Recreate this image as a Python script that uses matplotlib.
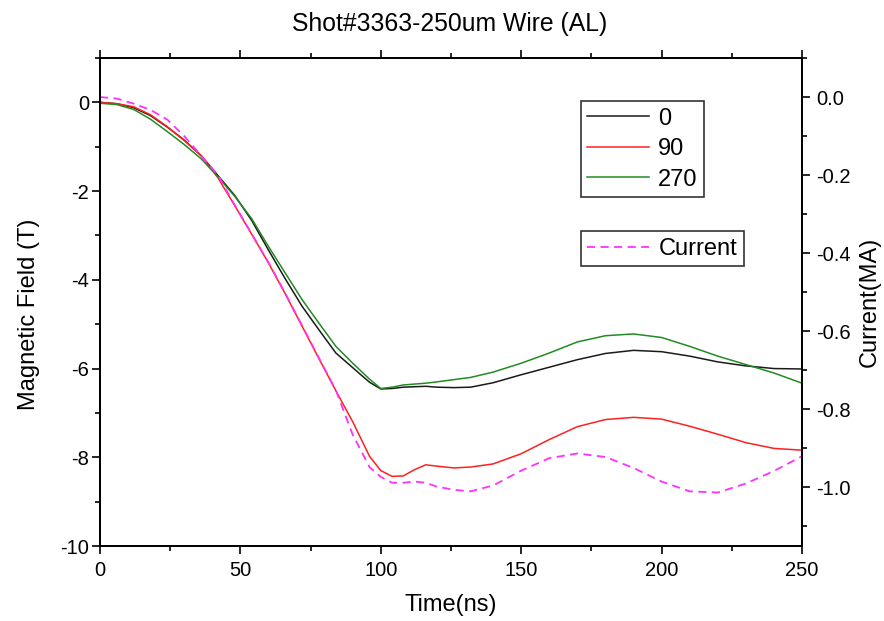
import matplotlib
matplotlib.use("Agg")
import matplotlib.pyplot as plt
from matplotlib.ticker import MultipleLocator, FormatStrFormatter

plt.rcParams['font.family'] = ['Liberation Sans', 'DejaVu Sans']
plt.rcParams['axes.unicode_minus'] = False

# ---- data ----
time_ns = [0, 6, 12, 18, 24, 30, 36, 42, 48, 54, 60, 66, 72, 78, 84, 90, 96,
           100, 104, 108, 112, 116, 120, 126, 132, 140, 150, 160, 170, 180,
           190, 200, 210, 220, 230, 240, 250]

field_0 = [0.0, -0.03, -0.12, -0.30, -0.56, -0.85, -1.20, -1.65, -2.10, -2.66,
           -3.33, -3.98, -4.60, -5.13, -5.65, -5.98, -6.31,
           -6.46, -6.45, -6.42, -6.41, -6.40, -6.42, -6.43, -6.42, -6.32, -6.14,
           -5.97, -5.80, -5.66, -5.59, -5.62, -5.72, -5.85, -5.94, -6.00, -6.01]

field_90 = [0.0, -0.03, -0.10, -0.28, -0.55, -0.86, -1.20, -1.70, -2.33, -2.97,
            -3.62, -4.32, -5.05, -5.78, -6.50, -7.20, -7.98,
            -8.30, -8.43, -8.42, -8.28, -8.17, -8.20, -8.24, -8.22, -8.15, -7.92,
            -7.60, -7.31, -7.15, -7.10, -7.14, -7.30, -7.48, -7.67, -7.80, -7.84]

field_270 = [-0.02, -0.05, -0.16, -0.38, -0.66, -0.95, -1.27, -1.68, -2.12, -2.62,
             -3.25, -3.85, -4.45, -4.98, -5.50, -5.88, -6.24,
             -6.45, -6.42, -6.37, -6.35, -6.33, -6.30, -6.25, -6.20, -6.08, -5.88,
             -5.65, -5.40, -5.26, -5.22, -5.30, -5.50, -5.72, -5.91, -6.10, -6.33]

current_MA = [0.0, -0.004, -0.017, -0.033, -0.058, -0.10, -0.15, -0.20, -0.277, -0.35,
              -0.424, -0.503, -0.586, -0.669, -0.751, -0.865, -0.948,
              -0.973, -0.988, -0.988, -0.985, -0.988, -0.998, -1.006, -1.010, -0.995, -0.957,
              -0.925, -0.913, -0.922, -0.950, -0.985, -1.010, -1.013, -0.990, -0.958, -0.920]

field_labels = ['0', '90', '270']
field_colors = ['#1a1a1a', '#ff2020', '#228b22']

# ---- figure ----
fig = plt.figure(figsize=(8.84, 6.21), dpi=100)
ax = fig.add_axes([100/884, 1-546/621, 702/884, 488/621])
ax2 = ax.twinx()

for vals, lab, col in zip([field_0, field_90, field_270], field_labels, field_colors):
    ax.plot(time_ns, vals, color=col, lw=1.1, label=lab)

ax2.plot(time_ns, current_MA, color='#ff30ff', lw=1.3, dashes=(4.5, 3), label='Current')

ax.set_xlim(0, 250)
ax.set_ylim(-10, 1)
ax2.set_ylim(-1.15, 0.1)

ax.xaxis.set_major_locator(MultipleLocator(50))
ax.xaxis.set_minor_locator(MultipleLocator(25))
ax.yaxis.set_major_locator(MultipleLocator(2))
ax.yaxis.set_minor_locator(MultipleLocator(1))
ax2.yaxis.set_major_locator(MultipleLocator(0.2))
ax2.yaxis.set_minor_locator(MultipleLocator(0.1))
ax2.yaxis.set_major_formatter(FormatStrFormatter('%.1f'))

ax.tick_params(axis='both', which='both', direction='out', width=1.2, labelsize=14.5)
ax.tick_params(axis='x', which='both', top=True, bottom=True)
ax.tick_params(axis='y', which='both', left=True, right=False, pad=2)
ax.tick_params(which='major', length=6)
ax.tick_params(which='minor', length=3.8)
ax.tick_params(axis='x', pad=5)
ax2.tick_params(axis='y', which='both', direction='out', width=1.2, labelsize=14.5, pad=4)
ax2.tick_params(which='major', length=6)
ax2.tick_params(which='minor', length=3.8)

for a in (ax, ax2):
    for s in a.spines.values():
        s.set_linewidth(1.3)

ax.set_xlabel('Time(ns)', fontsize=17, va='center')
ax.set_ylabel('Magnetic Field (T)', fontsize=17, va='center')
ax2.set_ylabel('Current(MA)', fontsize=17, va='center')
ax.xaxis.set_label_coords(0.5, -0.121)
ax.yaxis.set_label_coords(-0.101, 0.475)
ax2.yaxis.set_label_coords(1.097, 0.5)

fig.text(0.509, 0.962, 'Shot#3363-250um Wire (AL)', fontsize=17.8, ha='center', va='center')

leg_kw = dict(loc='upper left', borderaxespad=0, fontsize=17, handlelength=2.6,
              handletextpad=0.4, borderpad=0.28, fancybox=False, frameon=True)
leg1 = ax.legend(bbox_to_anchor=(0.685, 0.912), labelspacing=0.36, **leg_kw)
leg1.get_frame().set_edgecolor('black')
leg1.get_frame().set_linewidth(1.2)

leg2 = ax2.legend(bbox_to_anchor=(0.685, 0.645), labelspacing=0.2, **leg_kw)
leg2.get_frame().set_edgecolor('black')
leg2.get_frame().set_linewidth(1.2)

fig.savefig('out.png', dpi=100)
